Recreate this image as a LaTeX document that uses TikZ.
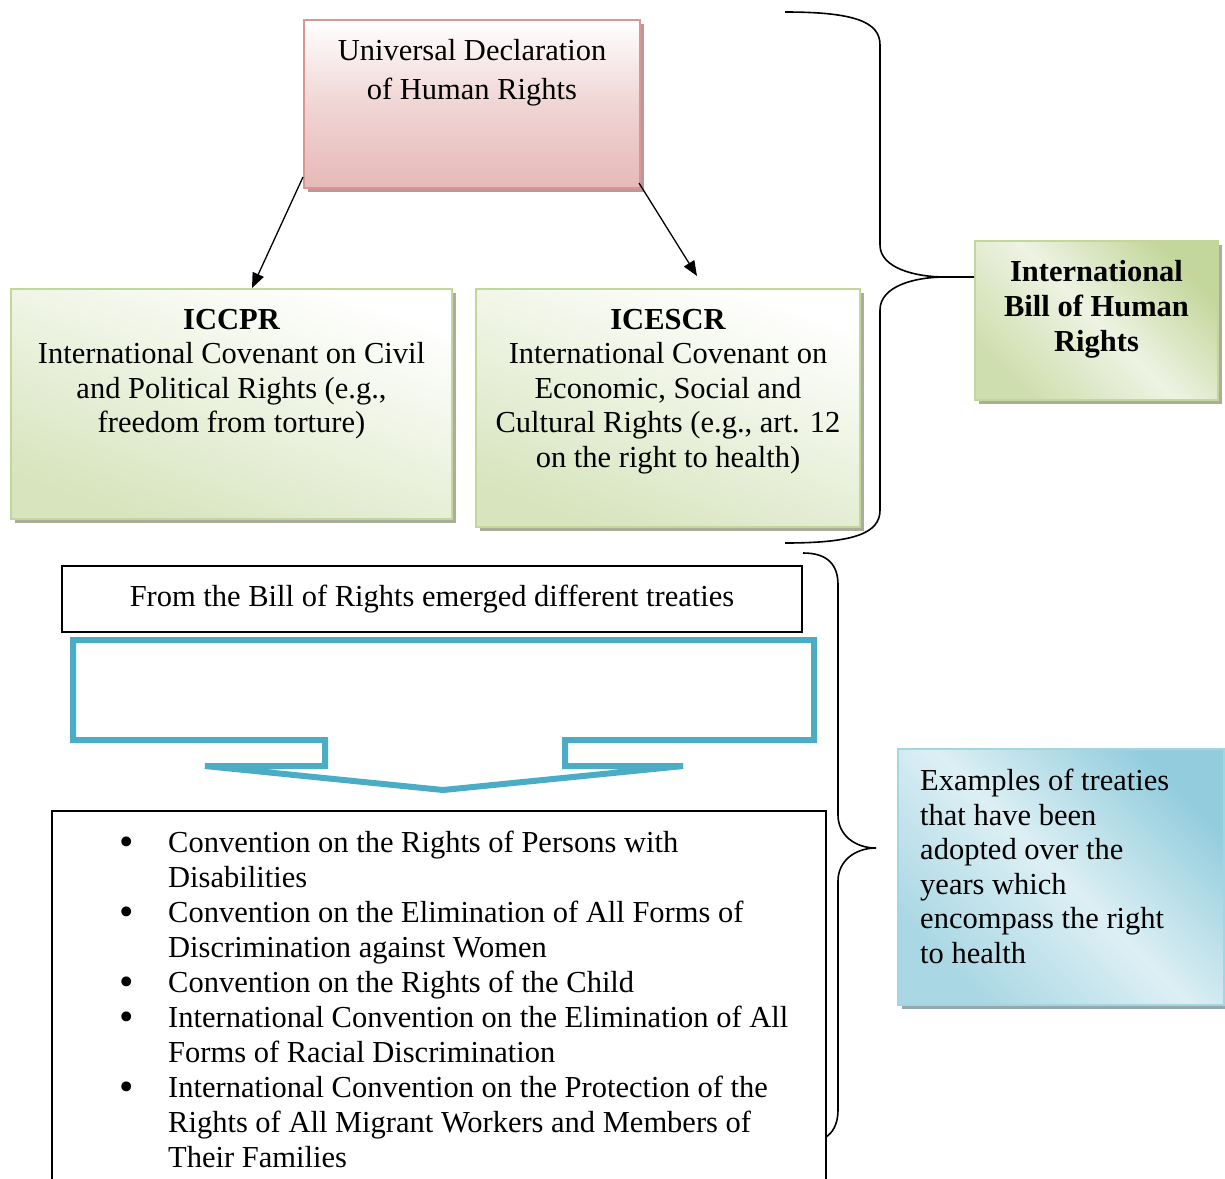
\documentclass[tikz,border=0pt]{standalone}
\usepackage{fontspec}
\setmainfont{Liberation Serif}
\usepackage{xcolor}
\usepackage{graphicx}
\usetikzlibrary{shadows,arrows.meta}

\definecolor{pinkline}{HTML}{D99694}
\definecolor{pinkfill}{HTML}{E6B9B8}
\definecolor{pinkshadow}{HTML}{B8999A}
\definecolor{greenline}{HTML}{C3D69B}
\definecolor{greenfill}{HTML}{D7E4BD}
\definecolor{greenlight}{HTML}{EEF3E3}
\definecolor{greenshadow}{HTML}{A8AE9A}
\definecolor{blueline}{HTML}{A3D5E2}
\definecolor{bluefill}{HTML}{93CDDD}
\definecolor{bluelight}{HTML}{DDEFF4}
\definecolor{blueshadow}{HTML}{95A8AD}
\definecolor{calloutblue}{HTML}{4BACC6}

\newcommand{\treatyitem}{\llap{\raisebox{-2.5pt}{\scalebox{1.35}{\textbullet}}\hskip34pt}}

\begin{document}
\begin{tikzpicture}[x=1pt,y=-1pt,
    txt/.style={inner sep=0pt, font=\fontsize{30.5}{34.5}\selectfont},
    box/.style={rectangle, inner sep=0pt, line width=2pt},
    pinkbox/.style={box, draw=pinkline, top color=white, bottom color=pinkfill, middle color=pinkfill!60!white,
        general shadow={fill=pinkshadow, shadow xshift=4pt, shadow yshift=-4pt}},
    greenbox/.style={box, draw=greenline, top color=white, bottom color=greenfill, shading angle=-20,
        general shadow={fill=greenshadow, shadow xshift=4pt, shadow yshift=-4pt}},
    billbox/.style={box, draw=greenline, top color=greenline, bottom color=greenline!80!white, middle color=greenlight, shading angle=-45,
        general shadow={fill=greenshadow, shadow xshift=4pt, shadow yshift=-4pt}},
    bluebox/.style={box, draw=blueline, top color=bluefill, bottom color=bluefill!80!white, middle color=bluelight, shading angle=-45,
        general shadow={fill=blueshadow, shadow xshift=4pt, shadow yshift=-4pt}},
    plainbox/.style={box, draw=black, line width=1.6pt},
    link/.style={line width=1.3pt, -{Triangle[length=15pt,width=12pt]}},
    brace/.style={line width=1.6pt},
    callout/.style={draw=calloutblue, line width=6pt, line join=miter}]
    \useasboundingbox (0,0) rectangle (1225,1178);
    % Top boxes
    \node[pinkbox, minimum width=336, minimum height=168] (udhr) at (472,104) {};
    \node[txt, anchor=north, align=center, font=\fontsize{30.5}{39}\selectfont] (udhrtext) at ([yshift=-20pt]udhr.north)
        {Universal Declaration\\of Human Rights};
    %
    \node[greenbox, minimum width=441, minimum height=230] (iccpr) at (231.5,404) {};
    \node[txt, anchor=north, align=center] (iccprtext) at ([yshift=-21pt]iccpr.north)
        {\bfseries ICCPR\\International Covenant on Civil\\and Political Rights (e.g.,\\freedom from torture)};
    %
    \node[greenbox, minimum width=384, minimum height=238] (icescr) at (668,408) {};
    \node[txt, anchor=north, align=center] (icescrtext) at ([yshift=-21pt]icescr.north)
        {\bfseries ICESCR\\International Covenant on\\Economic, Social and\\Cultural Rights (e.g., art. 12\\on the right to health)};
    %
    \draw[link] ([yshift=12pt]udhr.south west) -- ([xshift=20.5pt]iccpr.north);
    \draw[link] ([xshift=-2pt,yshift=6pt]udhr.south east) -- ([xshift=29pt,yshift=12pt]icescr.north);
    %
    \node[billbox, minimum width=243, minimum height=159] (bill) at (1096.5,320.5) {};
    \node[txt, anchor=north, align=center, font=\fontsize{30.5}{35}\selectfont\bfseries] (billtext) at ([yshift=-20pt]bill.north)
        {International\\Bill of Human\\Rights};
    % Brace of the bill
    \coordinate (billtip) at (945,277);
    \draw[brace] (785,12) .. controls (855,12) and (880,22) .. (880,45) -- (880,245)
        .. controls (880,268) and (915,277) .. (billtip) -- (billtip -| bill.west);
    \draw[brace] (billtip) .. controls (915,277) and (880,286) .. (880,310) -- (880,510)
        .. controls (880,533) and (855,543) .. (785,543);
    % Treaties
    \node[plainbox, minimum width=740, minimum height=66] (frombox) at (432,599) {};
    \node[txt, anchor=base] (fromtext) at ([yshift=-41pt]frombox.north)
        {From the Bill of Rights emerged different treaties};
    %
    \draw[callout] (73,640) -- (814,640) -- (814,740) -- (565,740) -- (565,766) -- (683,766)
        -- (443,790) -- (205,766) -- (325,766) -- (325,740) -- (73,740) -- cycle;
    %
    \node[plainbox, line width=1.5pt, minimum width=774, minimum height=420] (treaties) at (439,1021) {};
    \node[txt, anchor=north west, align=left, font=\fontsize{30.5}{35}\selectfont] (items)
        at ([xshift=116.75pt,yshift=-20.75pt]treaties.north west)
        {\treatyitem Convention on the Rights of Persons with\\Disabilities\\
         \treatyitem Convention on the Elimination of All Forms of\\Discrimination against Women\\
         \treatyitem Convention on the Rights of the Child\\
         \treatyitem International Convention on the Elimination of All\\Forms of Racial Discrimination\\
         \treatyitem International Convention on the Protection of the\\Rights of All Migrant Workers and Members of\\Their Families};
    %
    \node[bluebox, minimum width=326, minimum height=256] (examples) at (1061,877) {};
    \node[txt, anchor=north west, align=left] (extext) at ([xshift=23pt,yshift=-21pt]examples.north west)
        {Examples of treaties\\that have been\\adopted over the\\years which\\encompass the right\\to health};
    % Brace of the treaties
    \coordinate (extip) at (876,848);
    \draw[brace] (803,553) .. controls (828,553) and (838,565) .. (838,585) -- (838,815)
        .. controls (838,835) and (855,848) .. (extip);
    \draw[brace] (extip) .. controls (855,848) and (838,861) .. (838,881) -- (838,1110)
        .. controls (838,1125) and (832,1133) .. (826,1137);
\end{tikzpicture}
\end{document}
